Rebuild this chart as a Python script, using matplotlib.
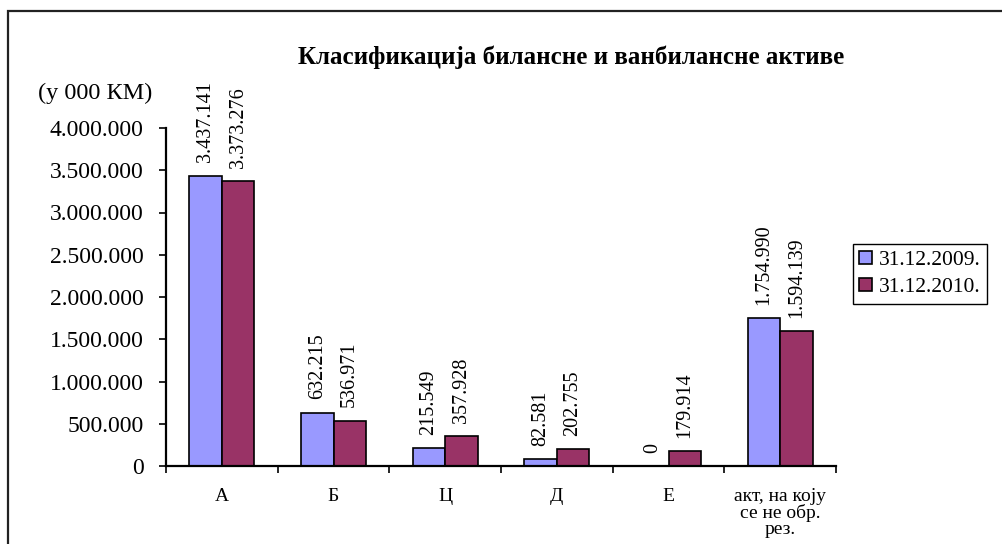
import matplotlib
matplotlib.use("Agg")
import matplotlib.pyplot as plt
import numpy as np
from matplotlib.patches import Rectangle
from matplotlib.ticker import FuncFormatter

categories = ["А", "Б", "Ц", "Д", "Е", "акт, на коју\nсе не обр.\nрез."]
series_names = ["31.12.2009.", "31.12.2010."]
values_2009 = [3437141, 632215, 215549, 82581, 0, 1754990]
values_2010 = [3373276, 536971, 357928, 202755, 179914, 1594139]
y_ticks = [0, 500000, 1000000, 1500000, 2000000, 2500000, 3000000, 3500000, 4000000]

BLUE = "#9999ff"
PLUM = "#993366"
FONT = "Liberation Serif"

plt.rcParams["font.family"] = [FONT, "DejaVu Serif"]


def fmt_dots(v, _pos=None):
    return f"{int(v):,}".replace(",", ".")


fig = plt.figure(figsize=(10.02, 5.44), dpi=100)
ax = fig.add_axes([166 / 1002, 78 / 544, 670 / 1002, 338 / 544])

# outer chart-area frame, running off the right and bottom edges
fig.patches.append(Rectangle((8 / 1002, -0.05), 1.1, 1.05 - 11 / 544,
                             transform=fig.transFigure, fill=False,
                             edgecolor="#222222", linewidth=1.6))

x = np.arange(len(categories))
w = 0.29
bars = []
for off, vals, col, name in [(-w / 2, values_2009, BLUE, series_names[0]),
                             (w / 2, values_2010, PLUM, series_names[1])]:
    b = ax.bar(x + off, vals, w, color=col, edgecolor="black", linewidth=1.2,
               label=name)
    bars.append(b)
    for xi, v in zip(x + off, vals):
        ax.annotate(fmt_dots(v), (xi, v), xytext=(0, 9.5), textcoords="offset points",
                    rotation=90, ha="center", va="bottom", fontsize=14.5)

ax.set_xlim(-0.5, len(categories) - 0.5)
ax.set_ylim(0, 4000000)
ax.set_yticks(y_ticks)
ax.yaxis.set_major_formatter(FuncFormatter(fmt_dots))
ax.set_xticks(np.arange(len(categories) + 1) - 0.5)
ax.set_xticklabels([])
ax.set_xticks(x, minor=True)
ax.set_xticklabels(categories, minor=True, fontsize=14, linespacing=0.92)
ax.tick_params(axis="x", which="minor", length=0, pad=16)
ax.tick_params(axis="x", which="major", length=5, width=1.2, direction="out")
ax.tick_params(axis="y", length=5, width=1.2, direction="out", labelsize=17, pad=11)

for side in ["top", "right"]:
    ax.spines[side].set_visible(False)
for side in ["left", "bottom"]:
    ax.spines[side].set_linewidth(1.6)

fig.text(571 / 1002, 1 - 57 / 544, "Класификација билансне и ванбилансне активе",
         ha="center", va="center", fontsize=18, fontweight="bold")
fig.text(38 / 1002, 1 - 93 / 544, "(у 000 КМ)", ha="left", va="center", fontsize=17.5)

fig.legend(handles=bars, labels=series_names, loc="center left",
           bbox_to_anchor=(853 / 1002, 1 - 274 / 544), fontsize=15.5,
           frameon=True, fancybox=False, edgecolor="black", framealpha=1,
           handlelength=0.6, handleheight=0.6, handletextpad=0.3,
           borderpad=0.3, labelspacing=0.35, borderaxespad=0)

fig.savefig("out.png", dpi=100)
